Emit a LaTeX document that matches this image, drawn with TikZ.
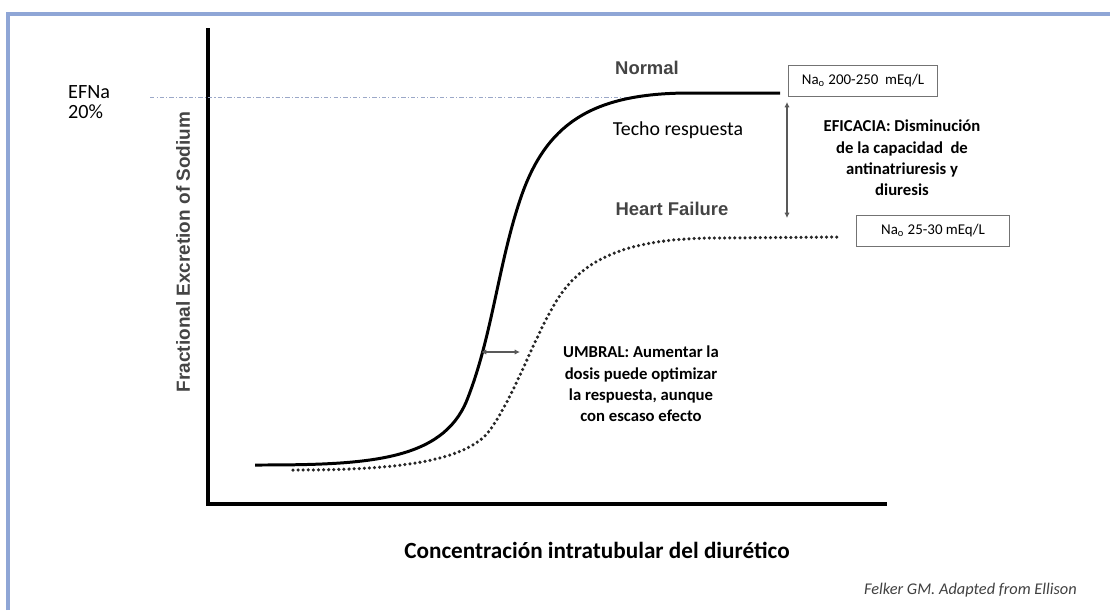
\documentclass[tikz,border=0pt]{standalone}
\usepackage{fontspec}
\setmainfont{Carlito}
\newfontfamily\arialfont{Liberation Sans}
\usepackage{tikz}
\usetikzlibrary{
  positioning,
  calc,
  arrows.meta,
  }

\definecolor{framebl}{RGB}{143,166,214}
\definecolor{labgray}{RGB}{68,68,68}
\definecolor{refgray}{RGB}{155,168,200}

\begin{document}
\begin{tikzpicture}[x=0.02cm,y=-0.02cm,
    axis/.style={line width=2.2pt, line join=miter},
    normcurve/.style={line width=1.7pt},
    hfcurve/.style={line width=2pt, line cap=round, dash pattern=on 0pt off 2.9pt, black!85},
    refline/.style={refgray, line width=0.5pt, dash pattern=on 2.5pt off 1.2pt on 0.6pt off 1.2pt},
    nabox/.style={draw=black!55, line width=0.5pt, inner sep=0pt, font=\fontsize{8.5}{10}\selectfont},
    curvelab/.style={font=\arialfont\bfseries\fontsize{10.5}{12}\selectfont, text=labgray},
    note/.style={font=\bfseries\fontsize{9.5}{12.2}\selectfont, align=center},
    dblarrow/.style={{Latex[length=3pt,width=3pt]}-{Latex[length=3pt,width=3pt]}, line width=0.6pt, black!65}]
                        \useasboundingbox (0,0) rectangle (1110,610);
                        % frame
                        \draw[framebl, line width=2pt] (8,610) -- (8,14) -- (1110,14);

                        % axes
                        \coordinate (ytop) at (208,28);
                        \coordinate (orig) at (208,504);
                        \coordinate (xend) at (887,504);
                        \draw[axis] (ytop) -- (orig) -- (xend);
                        \node[rotate=90, font=\arialfont\bfseries\fontsize{10.8}{13}\selectfont, text=labgray] (ylab) at (183,252) {Fractional Excretion of Sodium};
                        \node[font=\bfseries\fontsize{13.2}{15}\selectfont] (xlab) at (597,550) {Concentración intratubular del diurético};

                        % curves
                        \draw[refline] (150,97) -- (640,97);
                        \draw[normcurve] (255,465) .. controls (365,465) and (442,462) .. (467,400)
                            .. controls (492,337) and (498,266) .. (520,200)
                            .. controls (545,125) and (590,93) .. (690,93) -- (780,93);
                        \draw[hfcurve] (293,470) .. controls (380,470) and (465,465) .. (490,430)
                            .. controls (515,395) and (535,335) .. (557,300)
                            .. controls (587,252) and (640,238) .. (720,238) -- (840,237);

                        % labels
                        \node[align=left, font=\fontsize{11.5}{11.5}\selectfont, anchor=north west] (efna) at (62,79) {EFNa\\20\%};
                        \node[curvelab] (normal) at (647,68) {Normal};
                        \node[curvelab] (hflab) at (672,209) {Heart Failure};
                        \node[font=\fontsize{11.3}{13}\selectfont] (techo) at (678,130) {Techo respuesta};
                        \node[nabox, minimum width=149*0.02cm, minimum height=31*0.02cm] (nanorm) at (863,81) {Na\textsubscript{o} 200-250~ mEq/L};
                        \node[nabox, minimum width=153*0.02cm, minimum height=31*0.02cm] (nahf) at (933,231) {Na\textsubscript{o} 25-30 mEq/L};
                        \node[note] (efic) at (902,158) {EFICACIA: Disminución\\de la capacidad~ de\\antinatriuresis y\\diuresis};
                        \node[note] (umbral) at (641,384) {UMBRAL: Aumentar la\\dosis puede optimizar\\la respuesta, aunque\\con escaso efecto};
                        \node[font=\itshape\fontsize{9.3}{11}\selectfont, text=black!75, anchor=east] (felker) at (1083,590) {Felker GM. Adapted from Ellison};

                        % arrows
                        \coordinate (efftop) at (787,102);
                        \coordinate (effbot) at (787,218);
                        \coordinate (umbl) at (481,352);
                        \coordinate (umbr) at (520,352);
                        \foreach \from\to in {efftop/effbot,umbl/umbr}
                            \draw[dblarrow] (\from) -- (\to);
                    \end{tikzpicture}
\end{document}
